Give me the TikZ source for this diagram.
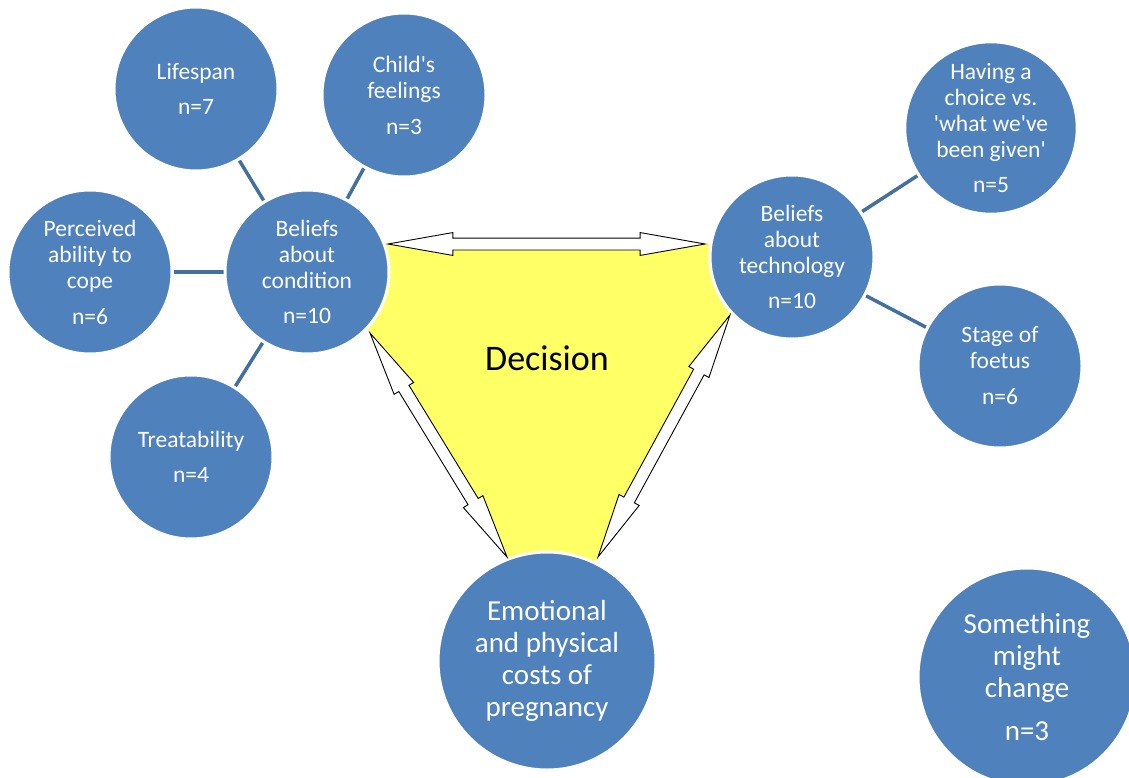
\documentclass[tikz,border=0pt]{standalone}
\usepackage{fontspec}
\setmainfont{Carlito}
\usetikzlibrary{shapes.arrows, backgrounds, calc}
\definecolor{topic}{RGB}{79, 129, 189}
\definecolor{linkcol}{RGB}{65, 113, 156}
\definecolor{decide}{RGB}{255, 255, 102}
\newcommand{\sq}{\textquotesingle}

\begin{document}
\begin{tikzpicture}[x=1pt, y=1pt,
    bubble/.style={circle, fill=topic, draw=white, line width=3pt, minimum size=164pt,
                   inner sep=0pt, align=center, text=white, font=\fontsize{23.5}{26}\selectfont},
    bigbubble/.style={bubble, minimum size=218pt, font=\fontsize{29}{32}\selectfont},
    link/.style={draw=linkcol, line width=3.5pt},
    twoway/.style={double arrow, draw=black, fill=white, line width=0.9pt, inner sep=5.5pt,
                   minimum width=0pt, double arrow head extend=5.5pt,
                   double arrow tip angle=20, double arrow head indent=0pt}]
    \useasboundingbox (0,0) rectangle (1129,-778);

    % Main themes
    \node[bubble] (cond) at (307,-272) {Beliefs\\about\\condition\\[9pt]n=10};
    \node[bubble] (tech) at (792,-257) {Beliefs\\about\\technology\\[9pt]n=10};
    \node[bigbubble] (emo) at (547,-661) {Emotional\\and physical\\costs of\\pregnancy};

    % Sub themes
    \node[bubble] (life) at (196,-89) {Lifespan\\[9pt]n=7};
    \node[bubble] (child) at (404,-95) {Child\sq s\\feelings\\[10pt]n=3};
    \node[bubble] (cope) at (90,-272) {Perceived\\ability to\\cope\\[10pt]n=6};
    \node[bubble] (treat) at (191,-457) {Treatability\\[9pt]n=4};
    \node[bubble] (choice) at (991,-128) {Having a\\choice vs.\\\sq what we\sq ve\\been given\sq\\[9pt]n=5};
    \node[bubble] (stage) at (1000,-366) {Stage of\\foetus\\[10pt]n=6};
    \node[bigbubble] (change) at (1027,-677) {Something\\might\\change\\[11pt]n=3};

    % Centre
    \node[font=\fontsize{36}{40}\selectfont] (decision) at (547,-358) {Decision};

    % Links
    \begin{scope}[on background layer]
        \fill[decide] (360,-244) -- (735,-244) -- (745,-288) -- (590,-572)
            -- (515,-570) -- (355,-308) -- cycle;
        \draw[link] (life) -- (cond);
        \draw[link] (child) -- (cond);
        \draw[link] (cope) -- (cond);
        \draw[link] (treat) -- (cond);
        \draw[link] (choice) -- (tech);
        \draw[link] (stage) -- (tech);
    \end{scope}

    % Two-way arrows
    \coordinate (ct1) at ($(cond)+(81,28)$);
    \coordinate (ct2) at ($(tech)+(-87,13)$);
    \coordinate (ce1) at ($(cond)+(63,-61)$);
    \coordinate (ce2) at ($(emo)+(-40,104)$);
    \coordinate (te1) at ($(tech)+(-62,-58)$);
    \coordinate (te2) at ($(emo)+(51,104)$);
    \path let \p1 = ($(ct2)-(ct1)$) in
        node[twoway, minimum height={veclen(\x1,\y1)}, rotate={atan2(\y1,\x1)}] (arrCT) at ($(ct1)!0.5!(ct2)$) {};
    \path let \p1 = ($(ce2)-(ce1)$) in
        node[twoway, minimum height={veclen(\x1,\y1)}, rotate={atan2(\y1,\x1)}] (arrCE) at ($(ce1)!0.5!(ce2)$) {};
    \path let \p1 = ($(te2)-(te1)$) in
        node[twoway, minimum height={veclen(\x1,\y1)}, rotate={atan2(\y1,\x1)}] (arrTE) at ($(te1)!0.5!(te2)$) {};
\end{tikzpicture}
\end{document}
